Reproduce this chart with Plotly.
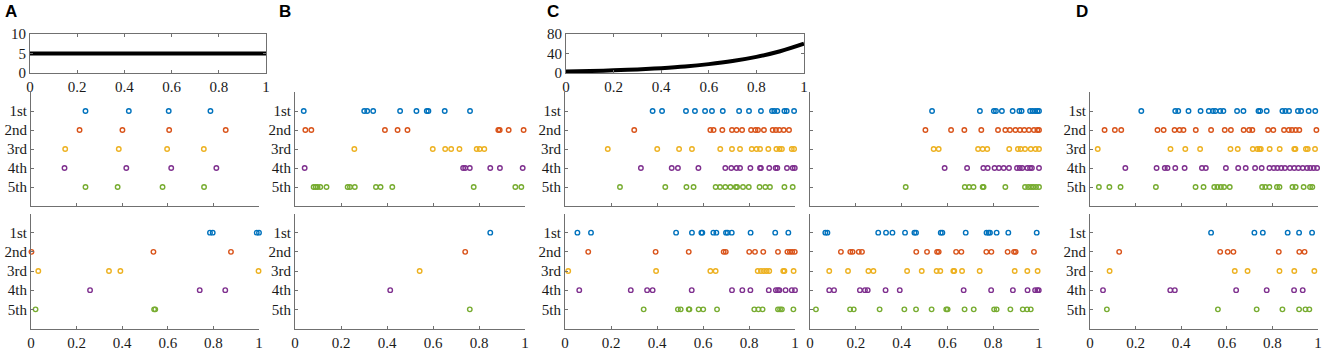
import plotly.graph_objects as go

W, H = 1325, 350

ROW_LABELS = ["1st", "2nd", "3rd", "4th", "5th"]
ROW_COLORS = ["#0072BD", "#D95319", "#EDB120", "#7E2F8E", "#77AC30"]
X_TICKS = [0, 0.2, 0.4, 0.6, 0.8, 1]
X_TICK_TEXT = ["0", "0.2", "0.4", "0.6", "0.8", "1"]

# rate curves (top panels)
RATE_T = [0, 0.1, 0.2, 0.3, 0.4, 0.5, 0.6, 0.7, 0.8, 0.9, 1.0]
RATE_A = [5, 5, 5, 5, 5, 5, 5, 5, 5, 5, 5]
RATE_C = [3, 4.0, 5.5, 7.4, 10, 13.4, 18.2, 24.5, 33, 44.6, 60]
RATE_A_TICKS = [0, 5, 10]
RATE_C_TICKS = [0, 40, 80]

# spike times, one list per trial (1st..5th)
A_MID = [
    [0.239, 0.429, 0.604, 0.787],
    [0.213, 0.401, 0.606, 0.854],
    [0.150, 0.385, 0.597, 0.758],
    [0.147, 0.418, 0.615, 0.813],
    [0.239, 0.380, 0.577, 0.759],
]
A_BOT = [
    [0.785, 0.797, 0.99, 1.0],
    [0.002, 0.537, 0.877],
    [0.032, 0.342, 0.392, 0.998],
    [0.259, 0.740, 0.852],
    [0.02, 0.540, 0.545],
]
B_MID = [
    [0.038, 0.301, 0.314, 0.340, 0.457, 0.528, 0.573, 0.580, 0.651, 0.761],
    [0.045, 0.071, 0.391, 0.446, 0.489, 0.884, 0.890, 0.929, 0.994],
    [0.258, 0.599, 0.653, 0.679, 0.715, 0.790, 0.803, 0.823],
    [0.042, 0.731, 0.740, 0.760, 0.849, 0.891, 0.990],
    [0.081, 0.090, 0.098, 0.110, 0.137, 0.229, 0.239, 0.260, 0.352, 0.372,
     0.423, 0.777, 0.958, 0.984],
]
B_BOT = [
    [0.849],
    [0.740],
    [0.542],
    [0.414],
    [0.760],
]
C_MID = [
    [0.381, 0.422, 0.526, 0.565, 0.609, 0.639, 0.686, 0.757, 0.800, 0.852,
     0.900, 0.910, 0.923, 0.954, 0.964, 0.996],
    [0.301, 0.632, 0.646, 0.684, 0.726, 0.746, 0.770, 0.809, 0.828, 0.839,
     0.865, 0.903, 0.917, 0.932, 0.951, 0.974],
    [0.186, 0.401, 0.496, 0.552, 0.675, 0.726, 0.761, 0.812, 0.833, 0.848,
     0.884, 0.919, 0.933, 0.943, 0.986, 0.996],
    [0.330, 0.464, 0.491, 0.580, 0.697, 0.723, 0.746, 0.761, 0.806, 0.848,
     0.852, 0.888, 0.916, 0.923, 0.965, 0.990, 0.999],
    [0.239, 0.436, 0.528, 0.559, 0.655, 0.674, 0.697, 0.719, 0.743, 0.748,
     0.774, 0.799, 0.846, 0.871, 0.891, 0.954, 0.990],
]
C_BOT = [
    [0.054, 0.113, 0.483, 0.552, 0.593, 0.597, 0.645, 0.658, 0.700, 0.707,
     0.725, 0.807, 0.914, 0.971],
    [0.101, 0.394, 0.538, 0.690, 0.699, 0.801, 0.826, 0.862, 0.926, 0.967,
     0.978, 0.988, 0.999],
    [0.014, 0.396, 0.632, 0.655, 0.838, 0.852, 0.865, 0.877, 0.888, 0.949,
     0.954, 0.994],
    [0.062, 0.286, 0.357, 0.381, 0.551, 0.726, 0.771, 0.806, 0.886, 0.917,
     0.926, 0.932, 0.959, 0.986, 1.0],
    [0.342, 0.491, 0.503, 0.538, 0.541, 0.581, 0.601, 0.661, 0.823, 0.841,
     0.859, 0.926, 0.935, 0.943, 0.993],
]
C2_MID = [
    [0.533, 0.742, 0.803, 0.812, 0.838, 0.885, 0.914, 0.924, 0.961, 0.972,
     0.983, 0.993, 1.0],
    [0.504, 0.616, 0.674, 0.748, 0.821, 0.853, 0.873, 0.897, 0.917, 0.936,
     0.956, 0.978, 0.993, 1.0],
    [0.540, 0.562, 0.734, 0.754, 0.774, 0.870, 0.908, 0.920, 0.939, 0.964,
     0.985, 1.0],
    [0.588, 0.686, 0.757, 0.776, 0.806, 0.825, 0.846, 0.869, 0.904, 0.916,
     0.927, 0.949, 0.961, 0.969, 1.0],
    [0.418, 0.676, 0.695, 0.714, 0.754, 0.758, 0.853, 0.939, 0.953, 0.965,
     0.975, 0.987, 1.0],
]
C2_BOT = [
    [0.067, 0.076, 0.298, 0.332, 0.360, 0.415, 0.456, 0.463, 0.571, 0.578,
     0.680, 0.771, 0.780, 0.786, 0.815, 0.866, 0.990],
    [0.135, 0.176, 0.186, 0.213, 0.227, 0.464, 0.511, 0.555, 0.562, 0.638,
     0.661, 0.770, 0.792, 0.863, 0.891, 0.898, 0.978],
    [0.084, 0.166, 0.255, 0.277, 0.424, 0.488, 0.553, 0.569, 0.626, 0.630,
     0.664, 0.741, 0.894, 0.949, 0.994],
    [0.084, 0.105, 0.218, 0.240, 0.252, 0.330, 0.392, 0.671, 0.791, 0.886,
     0.950, 0.983, 0.993, 0.999],
    [0.026, 0.175, 0.191, 0.304, 0.412, 0.463, 0.531, 0.595, 0.601, 0.675,
     0.715, 0.804, 0.815, 0.875, 0.929, 0.948, 0.964],
]
D_MID = [
    [0.225, 0.374, 0.387, 0.432, 0.485, 0.521, 0.539, 0.550, 0.571, 0.585,
     0.645, 0.673, 0.739, 0.746, 0.775, 0.844, 0.857, 0.873, 0.912, 0.926,
     0.959, 0.988],
    [0.064, 0.109, 0.137, 0.296, 0.323, 0.371, 0.393, 0.410, 0.464, 0.531,
     0.591, 0.618, 0.674, 0.698, 0.712, 0.781, 0.804, 0.851, 0.872, 0.886,
     0.902, 0.918, 0.993],
    [0.034, 0.353, 0.418, 0.483, 0.616, 0.648, 0.714, 0.734, 0.743, 0.749,
     0.788, 0.832, 0.896, 0.901, 0.947, 0.955, 0.987],
    [0.155, 0.292, 0.328, 0.340, 0.374, 0.415, 0.491, 0.508, 0.596, 0.650,
     0.683, 0.724, 0.753, 0.787, 0.806, 0.822, 0.839, 0.855, 0.877, 0.896,
     0.914, 0.933, 0.952, 0.966, 0.981, 0.996],
    [0.039, 0.085, 0.134, 0.289, 0.463, 0.498, 0.545, 0.559, 0.574, 0.588,
     0.613, 0.755, 0.769, 0.787, 0.820, 0.831, 0.888, 0.902, 0.937, 0.965,
     0.975],
]
D_BOT = [
    [0.531, 0.721, 0.758, 0.867, 0.917, 0.974],
    [0.128, 0.571, 0.604, 0.629, 0.828, 0.918, 0.941],
    [0.086, 0.635, 0.691, 0.831, 0.896, 0.984],
    [0.057, 0.352, 0.372, 0.641, 0.775, 0.895, 0.933],
    [0.074, 0.561, 0.731, 0.844, 0.917, 0.945, 0.962],
]

PANEL_LETTERS = ["A", "B", "C", "D"]

# ---------------- layout geometry (pixels) ----------------
RASTER_COLS = [(31, 259), (295, 525), (565, 795), (810, 1039), (1090, 1318)]
TOP_COLS = [(30, 266), (566, 804)]
ROW_TOP = (34, 73)
ROW_MID = (92, 206)
ROW_BOT = (213.5, 328.5)
LETTER_POS = [(11, 12), (285, 12), (553, 12), (1082, 12)]

AXIS_COLOR = "#707070"
TICK_FONT = dict(family="Liberation Serif", size=15, color="#1a1a1a")


def xdom(c):
    return [c[0] / W, c[1] / W]


def ydom(r):
    return [1 - r[1] / H, 1 - r[0] / H]


fig = go.Figure()
layout = dict(
    template="none",
    width=W, height=H, margin=dict(l=0, r=0, t=0, b=0, pad=0), autosize=False,
    paper_bgcolor="white", plot_bgcolor="white", showlegend=False,
)

axis_count = [0]


def new_axes():
    axis_count[0] += 1
    n = axis_count[0]
    xk = "xaxis" if n == 1 else f"xaxis{n}"
    yk = "yaxis" if n == 1 else f"yaxis{n}"
    xr = "x" if n == 1 else f"x{n}"
    yr = "y" if n == 1 else f"y{n}"
    return xk, yk, xr, yr


COMMON = dict(ticks="inside", ticklen=3, tickwidth=1, tickcolor=AXIS_COLOR,
              showline=True, linecolor=AXIS_COLOR, linewidth=1,
              showgrid=False, zeroline=False, automargin=False,
              tickfont=TICK_FONT)

# top rate panels
for cols, vals, yt in [(TOP_COLS[0], RATE_A, RATE_A_TICKS),
                       (TOP_COLS[1], RATE_C, RATE_C_TICKS)]:
    xk, yk, xr, yr = new_axes()
    fig.add_trace(go.Scatter(x=RATE_T, y=vals, mode="lines",
                             line=dict(color="black", width=4, shape="spline"),
                             xaxis=xr, yaxis=yr, hoverinfo="skip"))
    layout[xk] = dict(domain=xdom(cols), anchor=yr, range=[0, 1],
                      tickvals=X_TICKS, ticktext=X_TICK_TEXT, mirror="ticks",
                      **COMMON)
    layout[yk] = dict(domain=ydom(ROW_TOP), anchor=xr, range=[yt[0], yt[-1]],
                      tickvals=yt, mirror="ticks", **COMMON)

# raster panels: (columns, rows, data, x labels shown, y labels shown)
RASTERS = [
    (RASTER_COLS[0], ROW_MID, A_MID, False, True),
    (RASTER_COLS[0], ROW_BOT, A_BOT, True, True),
    (RASTER_COLS[1], ROW_MID, B_MID, False, True),
    (RASTER_COLS[1], ROW_BOT, B_BOT, True, True),
    (RASTER_COLS[2], ROW_MID, C_MID, False, True),
    (RASTER_COLS[2], ROW_BOT, C_BOT, True, True),
    (RASTER_COLS[3], ROW_MID, C2_MID, False, False),
    (RASTER_COLS[3], ROW_BOT, C2_BOT, True, False),
    (RASTER_COLS[4], ROW_MID, D_MID, False, True),
    (RASTER_COLS[4], ROW_BOT, D_BOT, True, True),
]

for cols, rows, trials, xlabels, ylabels in RASTERS:
    xk, yk, xr, yr = new_axes()
    for i, times in enumerate(trials):
        fig.add_trace(go.Scatter(
            x=times, y=[i + 1] * len(times), mode="markers",
            marker=dict(symbol="circle-open", size=4.5, color=ROW_COLORS[i],
                        line=dict(width=1.4, color=ROW_COLORS[i])),
            xaxis=xr, yaxis=yr, cliponaxis=False, hoverinfo="skip"))
    layout[xk] = dict(domain=xdom(cols), anchor=yr, range=[0, 1],
                      tickvals=X_TICKS, ticktext=X_TICK_TEXT,
                      showticklabels=xlabels, **COMMON)
    layout[yk] = dict(domain=ydom(rows), anchor=xr, range=[6, 0],
                      tickvals=[0, 1, 2, 3, 4, 5],
                      ticktext=[""] + ROW_LABELS, showticklabels=ylabels,
                      **COMMON)

annotations = []
for letter, (px, py) in zip(PANEL_LETTERS, LETTER_POS):
    annotations.append(dict(text=f"<b>{letter}</b>", x=px / W, y=1 - py / H,
                            xref="paper", yref="paper", showarrow=False,
                            xanchor="center", yanchor="middle",
                            font=dict(family="Liberation Sans", size=17,
                                      color="black")))
layout["annotations"] = annotations

fig.update_layout(**layout)
fig.write_html(
    "out.html",
    config={"displayModeBar": False, "responsive": False},
    post_script="document.body.style.margin='0';document.body.style.padding='0';"
                "document.body.style.overflow='hidden';",
)
